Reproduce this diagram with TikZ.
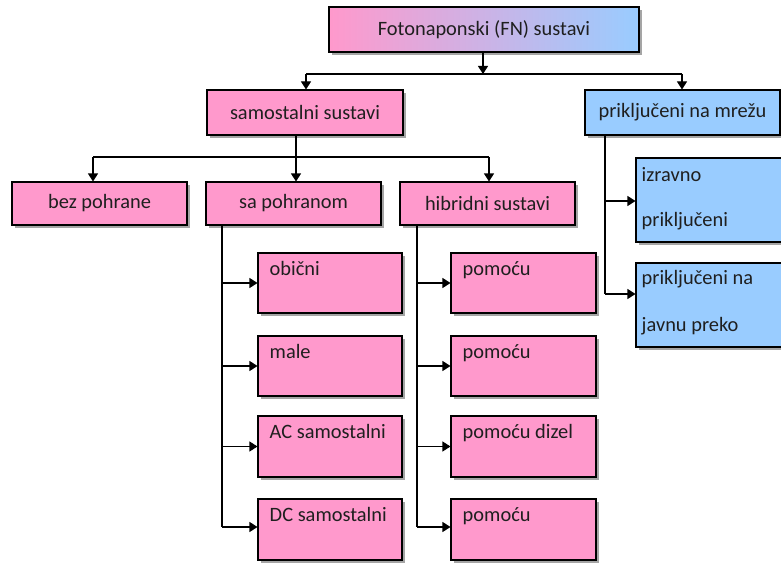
\documentclass[tikz,border=0pt]{standalone}
\usepackage{fontspec}
\setmainfont{Carlito}
\usetikzlibrary{arrows.meta,shadows,calc}
\definecolor{pinkbox}{HTML}{FF99CC}
\definecolor{bluebox}{HTML}{99CCFF}
\begin{document}
\begin{tikzpicture}[x=0.75pt,y=-0.75pt,
  sz/.style 2 args={minimum width={#1*0.75pt}, minimum height={#2*0.75pt}},
  box/.style={draw=black, line width=0.8pt, rectangle, inner sep=0pt,
    drop shadow={shadow xshift=2.6pt, shadow yshift=-2.6pt, fill=black!70, opacity=0.5}},
  pbox/.style={box, fill=pinkbox},
  bbox/.style={box, fill=bluebox},
  lbl/.style={font=\fontsize{15.3}{18}\selectfont, text=black!88},
  txt/.style={lbl, inner sep=0pt, anchor=base west},
  conn/.style={line width=0.8pt},
  arr/.style={conn, -{Triangle[length=6pt,width=7.5pt]}}]
\useasboundingbox (0,0) rectangle (781,563);

% level 0
\node[box, left color=pinkbox, right color=bluebox, sz={310}{45}, lbl] (top) at (484,29.5) {Fotonaponski (FN) sustavi};
% level 1
\node[pbox, sz={196}{45}, lbl] (sam) at (305,112.5) {samostalni sustavi};
\node[bbox, sz={195}{45}, lbl] (prik) at (682.5,112.5) {priključeni na mrežu};
% level 2
\node[pbox, sz={175}{43}, lbl] (bez) at (99.5,203.5) {bez pohrane};
\node[pbox, sz={175}{43}, lbl] (sa) at (293.5,203.5) {sa pohranom};
\node[pbox, sz={175}{43}, lbl] (hib) at (487.5,203.5) {hibridni sustavi};

% children of sa pohranom
\node[pbox, sz={144}{60}] (ob) at (330,283) {};
\node[pbox, sz={144}{60}] (ma) at (330,366) {};
\node[pbox, sz={144}{61}] (ac) at (330,446.5) {};
\node[pbox, sz={144}{61}] (dc) at (330,529.5) {};
\node[txt] (tob) at ($(ob.north west)+(12,23)$) {obični};
\node[txt] (tma) at ($(ma.north west)+(12,23)$) {male};
\node[txt] (tac) at ($(ac.north west)+(12,23)$) {AC samostalni};
\node[txt] (tdc) at ($(dc.north west)+(12,23)$) {DC samostalni};

% children of hibridni sustavi
\node[pbox, sz={145}{60}] (h1) at (523.5,283) {};
\node[pbox, sz={145}{60}] (h2) at (523.5,366) {};
\node[pbox, sz={145}{61}] (h3) at (523.5,446.5) {};
\node[pbox, sz={145}{61}] (h4) at (523.5,529.5) {};
\node[txt] (th1) at ($(h1.north west)+(12,23)$) {pomoću};
\node[txt] (th2) at ($(h2.north west)+(12,23)$) {pomoću};
\node[txt] (th3) at ($(h3.north west)+(12,23)$) {pomoću dizel};
\node[txt] (th4) at ($(h4.north west)+(12,23)$) {pomoću};

% children of prikljuceni
\node[bbox, sz={154}{84}] (b1) at (713,200) {};
\node[bbox, sz={154}{84}] (b2) at (713,305) {};
\node[txt] (tb1a) at ($(b1.north west)+(6,24)$) {izravno};
\node[txt] (tb1b) at ($(b1.north west)+(6,69)$) {priključeni};
\node[txt] (tb2a) at ($(b2.north west)+(6,22)$) {priključeni na};
\node[txt] (tb2b) at ($(b2.north west)+(6,69)$) {javnu preko};

% connectors level 0 -> 1
\coordinate (bus0) at (483,74);
\coordinate (s0) at (306,74);
\coordinate (p0) at (682,74);
\draw[arr] (top.south -| bus0) -- (bus0);
\draw[conn] (s0) -- (p0);
\draw[arr] (s0) -- (s0 |- sam.north);
\draw[arr] (p0) -- (p0 |- prik.north);

% connectors level 1 -> 2
\coordinate (j1) at (296,157);
\coordinate (bz) at (93,157);
\coordinate (hb) at (489,157);
\draw[conn] (j1 |- sam.south) -- (j1);
\draw[conn] (bz) -- (hb);
\draw[arr] (bz) -- (bz |- bez.north);
\draw[arr] (j1) -- (j1 |- sa.north);
\draw[arr] (hb) -- (hb |- hib.north);

% sa pohranom children
\coordinate (v1) at (222,527);
\draw[conn] (v1 |- sa.south) -- (v1);
\draw[arr] (v1 |- ob.west) -- (ob.west);
\draw[arr] (v1 |- ma.west) -- (ma.west);
\draw[arr] (v1 |- ac.west) -- (ac.west);
\draw[arr] (v1) -- (v1 -| dc.west);

% hibridni children
\coordinate (v2) at (417,527);
\draw[conn] (v2 |- hib.south) -- (v2);
\draw[arr] (v2 |- h1.west) -- (h1.west);
\draw[arr] (v2 |- h2.west) -- (h2.west);
\draw[arr] (v2 |- h3.west) -- (h3.west);
\draw[arr] (v2) -- (v2 -| h4.west);

% prikljuceni children
\coordinate (v3) at (605,294);
\coordinate (a3) at (605,201);
\draw[conn] (v3 |- prik.south) -- (v3);
\draw[arr] (a3) -- (a3 -| b1.west);
\draw[arr] (v3) -- (v3 -| b2.west);
\end{tikzpicture}
\end{document}
